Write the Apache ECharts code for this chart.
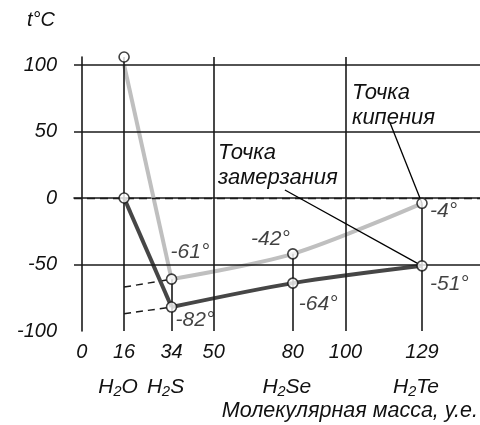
<!DOCTYPE html>
<html>
<head>
<meta charset="utf-8">
<script src="https://cdn.jsdelivr.net/npm/echarts@6/dist/echarts.min.js"></script>
<style>
html,body{margin:0;padding:0;background:#fff;}
#c{width:480px;height:425px;}
</style>
</head>
<body>
<div id="c"></div>
<script>
// ---- data ----
const masses = [16, 34, 80, 129];
const compounds = ['H₂O', 'H₂S', 'H₂Se', 'H₂Te'];
const boiling = [100, -61, -42, -4];
const freezing = [0, -82, -64, -51];
const xTicks = [0, 16, 34, 50, 80, 100, 129];
const yTicks = [-100, -50, 0, 50, 100];
// dashed extrapolated trends at x = 16 and x = 34
const trendX = [16, 34];
const boilingTrend = [-67, -61];
const freezingTrend = [-87, -82];

// ---- layout / style ----
const X_MIN = -3, X_MAX = 151, Y_MIN = -100, Y_MAX = 106;
const FONT = '"Liberation Sans", Arial, sans-serif';
const TXT = '#111';
const GRID = '#1a1a1a';
// label offsets for degree labels [dx, dy, align]
const boilLabel = [null, [-1, -27, 'left'], [-3, -15, 'right'], [8, 8, 'left']];
const freezeLabel = [null, [4, 13, 'left'], [6, 21, 'left'], [8, 18, 'left']];
// annotation pointer anchors (data coords of text side)
const boilPointer = [116.9, 56.4];
const freezePointer = [77, 6];

const chart = echarts.init(document.getElementById('c'), null, {renderer: 'canvas'});

const gridLines = [];
// horizontal
yTicks.forEach(v => {
  if (v === Y_MIN) return;
  gridLines.push([
    {coord: [X_MIN, v], lineStyle: v === 0 ? {type: [8, 5], width: 1.3, color: GRID} : {type: 'solid', width: 1.6, color: GRID}},
    {coord: [X_MAX, v]}
  ]);
});
// vertical
xTicks.forEach(v => {
  if (v === 0) return;
  const idx = masses.indexOf(v);
  const top = (idx > 0) ? boiling[idx] : Y_MAX;
  gridLines.push([{coord: [v, Y_MIN], lineStyle: {type: 'solid', width: 1.6, color: GRID}}, {coord: [v, top]}]);
});
// pointers
gridLines.push([{coord: boilPointer, lineStyle: {type: 'solid', width: 1.3, color: '#000'}}, {coord: [masses[3], boiling[3]]}]);
gridLines.push([{coord: freezePointer, lineStyle: {type: 'solid', width: 1.3, color: '#000'}}, {coord: [masses[3], freezing[3]]}]);

function pts(ys, from) {
  const out = [];
  for (let i = from || 0; i < masses.length; i++) out.push([masses[i], ys[i]]);
  return out;
}

function circleData(ys, labels, isBoil) {
  return masses.map((m, i) => {
    const d = {value: [m, ys[i]]};
    if (isBoil && i === 0) d.symbolOffset = [0, -8];
    const l = labels[i];
    if (l) {
      d.label = {
        show: true, position: 'inside', offset: [l[0], l[1]], align: l[2], verticalAlign: 'middle',
        formatter: ys[i] + '°', color: TXT, fontSize: 21, fontStyle: 'italic', fontFamily: FONT
      };
    }
    return d;
  });
}

const circleStyle = {color: '#fff', borderColor: '#111', borderWidth: 1.6};

chart.setOption({
  animation: false,
  backgroundColor: '#fff',
  grid: {left: 74, right: 0, top: 57, bottom: 94},
  xAxis: {
    type: 'value', min: X_MIN, max: X_MAX,
    axisLine: {show: true, lineStyle: {color: GRID, width: 1.6}},
    axisTick: {show: false},
    splitLine: {show: false},
    axisLabel: {
      customValues: xTicks,
      margin: 10,
      formatter: v => {
        const i = masses.indexOf(v);
        return '{n|' + v + '}\n{c|' + (i >= 0 ? compounds[i] : ' ') + '}';
      },
      rich: {
        n: {fontSize: 20, lineHeight: 22, fontStyle: 'italic', fontFamily: FONT, color: TXT},
        c: {fontSize: 21, lineHeight: 48, fontStyle: 'italic', fontFamily: FONT, color: TXT, padding: [0, 12, 0, 0]}
      }
    }
  },
  yAxis: {
    type: 'value', min: Y_MIN, max: Y_MAX,
    axisLine: {show: true, lineStyle: {color: GRID, width: 1.6}},
    axisTick: {show: false},
    splitLine: {show: false},
    axisLabel: {
      customValues: yTicks, margin: 17,
      fontSize: 20, fontStyle: 'italic', fontFamily: FONT, color: TXT
    }
  },
  graphic: [
    {type: 'text', left: 27, top: 10, style: {text: 't°C', fontSize: 20, fontStyle: 'italic', fontFamily: FONT, fill: TXT}},
    {type: 'text', right: 2, top: 400, style: {text: 'Молекулярная масса, у.е.', fontSize: 21.5, fontStyle: 'italic', fontFamily: FONT, fill: TXT}},
    {type: 'text', left: 352, top: 80, style: {text: 'Точка\nкипения', fontSize: 22, lineHeight: 25, fontStyle: 'italic', fontFamily: FONT, fill: TXT}},
    {type: 'text', left: 218, top: 140, style: {text: 'Точка\nзамерзания', fontSize: 22, lineHeight: 25, fontStyle: 'italic', fontFamily: FONT, fill: TXT}}
  ],
  series: [
    {
      type: 'line', data: [], silent: true, z: 1,
      markLine: {silent: true, symbol: ['none', 'none'], label: {show: false}, animation: false, data: gridLines}
    },
    {type: 'line', data: trendX.map((x, i) => [x, boilingTrend[i]]), symbol: 'none', z: 2,
      lineStyle: {color: GRID, width: 1.5, type: [7, 5]}},
    {type: 'line', data: trendX.map((x, i) => [x, freezingTrend[i]]), symbol: 'none', z: 2,
      lineStyle: {color: GRID, width: 1.5, type: [7, 5]}},
    {type: 'line', data: pts(boiling).slice(0, 2), symbol: 'none', z: 3, lineStyle: {color: '#bfbfbf', width: 4}},
    {type: 'line', data: pts(boiling, 1), symbol: 'none', smooth: 0.3, z: 3, lineStyle: {color: '#bfbfbf', width: 4}},
    {type: 'line', data: pts(freezing).slice(0, 2), symbol: 'none', z: 4, lineStyle: {color: '#464646', width: 4}},
    {type: 'line', data: pts(freezing, 1), symbol: 'none', smooth: 0.3, z: 4, lineStyle: {color: '#464646', width: 4}},
    {type: 'scatter', data: circleData(boiling, boilLabel, true), symbol: 'circle', symbolSize: 10, z: 10, itemStyle: circleStyle},
    {type: 'scatter', data: circleData(freezing, freezeLabel, false), symbol: 'circle', symbolSize: 10, z: 10, itemStyle: circleStyle}
  ]
});
</script>
</body>
</html>
